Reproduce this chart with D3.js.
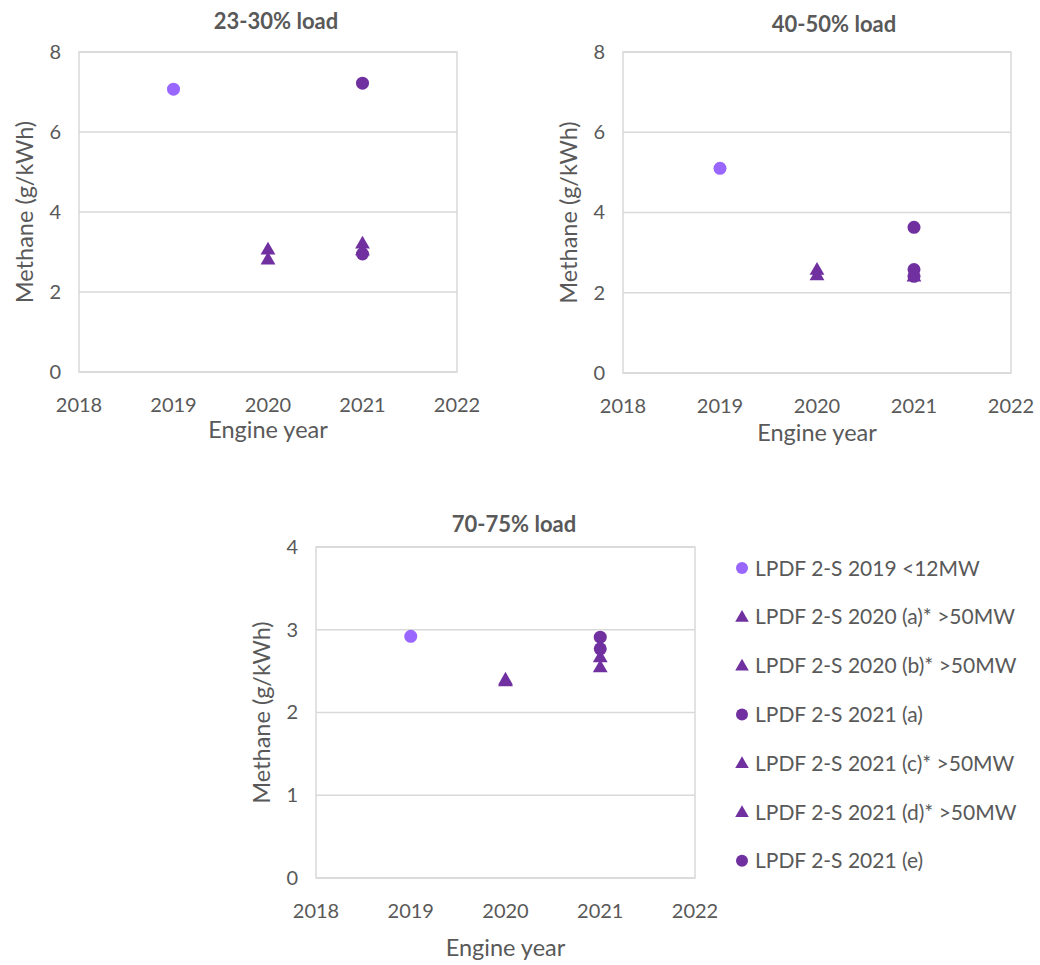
<!DOCTYPE html>
<html>
<head>
  <script src="https://d3js.org/d3.v7.min.js"></script>
  <style>
    body { margin: 0; background: #fff; }
    text { font-family: Lato, "Open Sans", sans-serif; fill: #595959; }
  </style>
</head>
<body>
<div id="chart"></div>
<script>
  // Series (legend order) and their shapes/colours
  var seriesNames = ["LPDF 2-S 2019 <12MW", "LPDF 2-S 2020 (a)* >50MW", "LPDF 2-S 2020 (b)* >50MW",
                     "LPDF 2-S 2021 (a)", "LPDF 2-S 2021 (c)* >50MW", "LPDF 2-S 2021 (d)* >50MW",
                     "LPDF 2-S 2021 (e)"];
  var seriesYears = [2019, 2020, 2020, 2021, 2021, 2021, 2021];
  var seriesShapes = ["circle", "triangle", "triangle", "circle", "triangle", "triangle", "circle"];
  var seriesColors = ["#9966FF", "#7030A0", "#7030A0", "#7030A0", "#7030A0", "#7030A0", "#7030A0"];

  // Methane (g/kWh) per load band, one value per series
  var load23_30 = [7.07, 3.07, 2.82, 7.22, 3.22, 3.05, 2.95];
  var load40_50 = [5.10, 2.58, 2.44, 3.63, 2.58, 2.41, 2.41];
  var load70_75 = [2.92, 2.40, 2.38, 2.91, 2.67, 2.55, 2.77];

  // the 40-50% panel shows the 2021 (c) point as a circle
  var shapes40_50 = ["circle", "triangle", "triangle", "circle", "circle", "triangle", "circle"];

  var xTicks = [2018, 2019, 2020, 2021, 2022];
  var yTicksA = [0, 2, 4, 6, 8];
  var yTicksB = [0, 1, 2, 3, 4];

  var W = 1040, H = 965;
  var svg = d3.select("#chart").append("svg").attr("width", W).attr("height", H);

  var panels = [
    {title: "23-30% load", vals: load23_30, shapes: seriesShapes, ticks: yTicksA, l: 79, r: 457, t: 52, b: 372, titleX: 276, titleY: 29, xlabY: 412, xtitleY: 438},
    {title: "40-50% load", vals: load40_50, shapes: shapes40_50, ticks: yTicksA, l: 623, r: 1011, t: 52, b: 373, titleX: 834, titleY: 32, xlabY: 413, xtitleY: 441},
    {title: "70-75% load", vals: load70_75, shapes: seriesShapes, ticks: yTicksB, l: 316, r: 695, t: 547, b: 878, titleX: 514, titleY: 532, xlabY: 918, xtitleY: 956}
  ];

  var triangle = d3.symbol().type(d3.symbolTriangle).size(95);

  function drawMarker(g, shape, color, x, y) {
    if (shape === "circle") {
      g.append("circle").attr("cx", x).attr("cy", y).attr("r", 6.5).attr("fill", color);
    } else {
      g.append("path").attr("d", triangle).attr("transform", "translate(" + x + "," + (y + 1) + ")").attr("fill", color);
    }
  }

  panels.forEach(function(p) {
    var x = d3.scaleLinear().domain([2018, 2022]).range([p.l, p.r]);
    var y = d3.scaleLinear().domain([0, d3.max(p.ticks)]).range([p.b, p.t]);
    var g = svg.append("g");

    // gridlines
    g.selectAll("line.grid").data(p.ticks).enter().append("line")
      .attr("x1", p.l).attr("x2", p.r)
      .attr("y1", function(d) { return y(d); }).attr("y2", function(d) { return y(d); })
      .attr("stroke", "#D9D9D9").attr("stroke-width", 1.5);

    // plot border
    g.append("rect").attr("x", p.l).attr("y", p.t).attr("width", p.r - p.l).attr("height", p.b - p.t)
      .attr("fill", "none").attr("stroke", "#D9D9D9").attr("stroke-width", 1.5);

    // y axis labels
    var yAxis = d3.axisLeft(y).tickValues(p.ticks).tickFormat(d3.format("d")).tickSize(0).tickPadding(18);
    var ya = g.append("g").attr("transform", "translate(" + p.l + ",0)").call(yAxis);
    ya.select(".domain").remove();
    ya.selectAll("text").style("font-size", "20px").attr("fill", "#595959").attr("font-family", "Lato, sans-serif");

    // x axis labels
    g.selectAll("text.xl").data(xTicks).enter().append("text")
      .attr("x", function(d) { return x(d); }).attr("y", p.xlabY)
      .attr("text-anchor", "middle").style("font-size", "20px")
      .text(function(d) { return d; });

    // titles
    g.append("text").attr("x", p.titleX).attr("y", p.titleY).attr("text-anchor", "middle")
      .style("font-size", "22px").style("font-weight", "bold").text(p.title);
    g.append("text").attr("x", (p.l + p.r) / 2).attr("y", p.xtitleY).attr("text-anchor", "middle")
      .style("font-size", "23.5px").text("Engine year");
    g.append("text").attr("transform", "translate(" + (p.l - 46) + "," + ((p.t + p.b) / 2) + ") rotate(-90)")
      .attr("text-anchor", "middle").style("font-size", "23.5px").text("Methane (g/kWh)");

    // points
    p.vals.forEach(function(v, i) {
      if (v == null) return;
      drawMarker(g, p.shapes[i], seriesColors[i], x(seriesYears[i]), y(v));
    });
  });

  // legend
  var leg = svg.append("g").attr("transform", "translate(742,568)");
  seriesNames.forEach(function(name, i) {
    var row = leg.append("g").attr("transform", "translate(0," + (i * 48.8) + ")");
    if (seriesShapes[i] === "circle") {
      row.append("circle").attr("r", 6).attr("fill", seriesColors[i]);
    } else {
      row.append("path").attr("d", d3.symbol().type(d3.symbolTriangle).size(80)).attr("transform", "translate(0,1)").attr("fill", seriesColors[i]);
    }
    row.append("text").attr("x", 13).attr("y", 7.5).style("font-size", "21px").text(name);
  });
</script>
</body>
</html>
